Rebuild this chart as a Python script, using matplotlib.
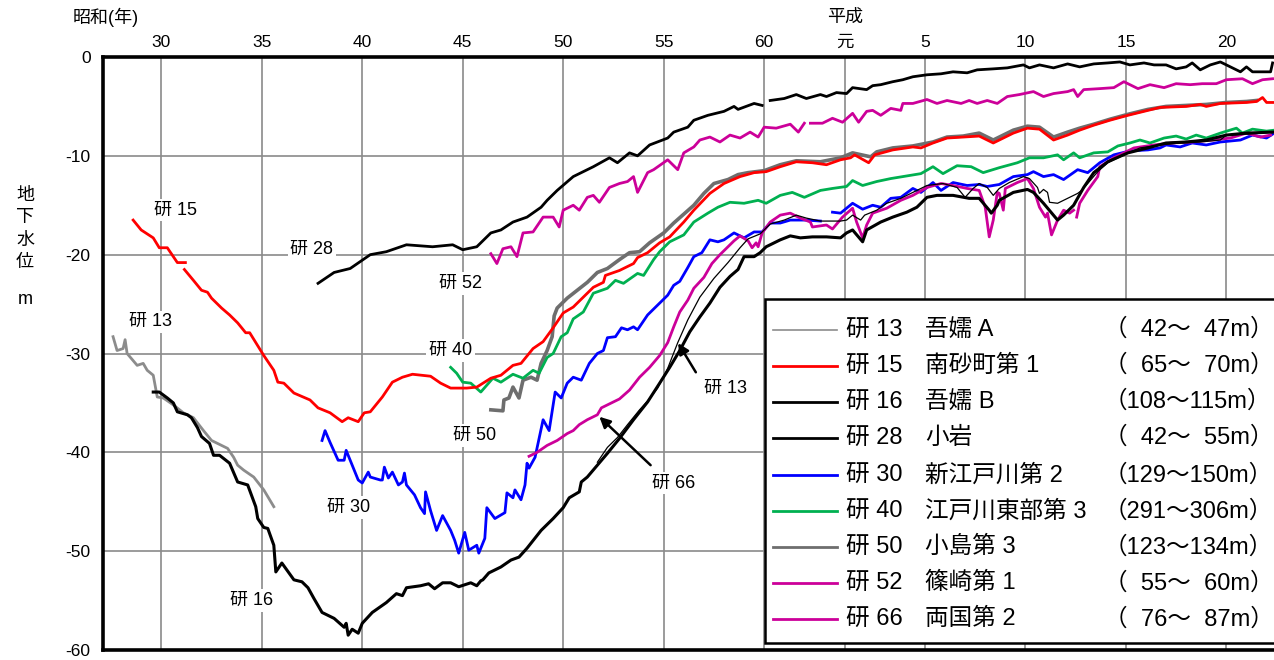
import numpy as np
import matplotlib
matplotlib.use("Agg")
import matplotlib.pyplot as plt
from matplotlib.patches import Rectangle
from matplotlib.lines import Line2D

FONT = ['Liberation Sans', 'Noto Sans CJK JP', 'DejaVu Sans']
plt.rcParams['font.family'] = FONT

nan = np.nan

# ---- data (year, groundwater level m) ----
yr13a = [1952.6, 1952.8, 1953.1, 1953.2, 1953.3, 1953.8, 1954.1, 1954.3, 1954.6, 1954.8, 1955.1, 1955.6,
         1956.1, 1956.6, 1957.1, 1957.5, 1957.8, 1958.3, 1958.6, 1958.8, 1959.1, 1959.6, 1960.1, 1960.6]
lv13a = [-28.3, -29.7, -29.5, -28.6, -30.0, -31.2, -31.0, -31.7, -32.2, -34.4, -34.5, -35.2,
         -36.0, -36.5, -37.8, -38.8, -39.1, -39.6, -40.5, -41.3, -41.8, -42.5, -43.8, -45.5]

yr13b = [1976.7, 1977.2, 1977.7, 1978.2, 1978.8, 1979.2, 1979.7, 1980.2, 1980.7, 1981.2, 1981.8, 1982.5,
         1983.2, 1983.8, 1984.2, 1984.8, 1985.3, 1986.0, 1986.6, 1987.1, 1987.8, 1988.8, 1989.1, 1989.4,
         1989.8, 1990.0, 1990.6, 1991.1, 1991.8, 1992.4, 1993.1, 1993.9, 1994.6, 1995.0, 1995.4, 1995.7,
         1996.1, 1996.4, 1996.7, 1997.2, 1997.9, 1998.2, 1998.6, 1998.7, 1998.9, 1999.1, 1999.2, 1999.6,
         2000.1, 2000.6, 2000.8, 2001.1, 2001.6, 2002.1, 2002.7, 2003.7, 2004.7, 2005.7, 2006.7, 2007.7,
         2008.0, 2009.0, 2010.3]
lv13b = [-41.0, -39.5, -38.5, -37.2, -35.7, -34.8, -33.5, -31.5, -28.9, -26.6, -24.3, -22.4,
         -20.8, -19.3, -18.4, -17.9, -16.9, -16.5, -16.0, -16.3, -16.6, -16.6, -16.5, -16.0,
         -16.5, -16.0, -15.5, -14.8, -14.3, -13.7, -13.0, -12.8, -13.2, -14.2, -13.3, -12.8,
         -13.2, -14.0, -13.3, -12.7, -12.1, -12.3, -13.2, -13.8, -13.4, -13.7, -14.7, -14.8,
         -14.3, -13.8, -13.5, -12.8, -11.6, -10.7, -10.1, -9.2, -8.9, -8.7, -8.6, -8.4,
         -7.9, -7.8, -7.6]

yr15 = [1953.6, 1954.0, 1954.6, 1954.9, 1955.3, 1955.8, 1956.2, 1956.2, 1956.15, 1956.6, 1957.0, 1957.3,
        1957.5, 1958.0, 1958.4, 1958.8, 1959.2, 1959.4, 1960.1, 1960.6, 1960.8, 1961.1, 1961.6, 1962.4,
        1962.8, 1963.4, 1964.0, 1964.3, 1964.8, 1965.1, 1965.4, 1966.0, 1966.5, 1967.0, 1967.5, 1968.4,
        1968.9, 1969.4, 1970.2, 1970.7, 1971.4, 1971.9, 1972.5, 1972.9, 1973.5, 1974.0, 1974.5, 1975.0,
        1975.5, 1976.0, 1976.5, 1977.0, 1977.1, 1977.8, 1978.5, 1978.7, 1979.2, 1979.8, 1980.3, 1981.0,
        1981.5, 1982.3, 1983.0, 1983.8, 1984.5, 1985.1, 1985.8, 1986.6, 1987.4, 1988.1, 1988.8, 1989.3,
        1989.5, 1990.2, 1990.5, 1991.4, 1992.4, 1992.8, 1993.4, 1994.1, 1994.9, 1995.7, 1996.4, 1996.9,
        1997.4, 1998.1, 1998.7, 1999.4, 2000.1, 2000.7, 2001.4, 2002.2, 2003.1, 2004.1, 2004.7, 2006.0,
        2006.7, 2007.0, 2007.7, 2009.0, 2009.5, 2009.8, 2010.0, 2010.4]
lv15 = [-16.5, -17.5, -18.3, -19.3, -19.3, -20.8, -20.8, nan, -21.5, -22.6, -23.6, -23.8,
        -24.4, -25.4, -26.1, -26.9, -27.9, -27.9, -30.2, -31.7, -32.9, -33.0, -34.0, -34.7,
        -35.5, -36.0, -36.9, -36.5, -36.9, -36.0, -35.9, -34.4, -32.9, -32.4, -32.1, -32.3,
        -33.0, -33.5, -33.5, -33.4, -32.5, -32.2, -31.2, -31.0, -29.5, -28.8, -27.4, -25.9,
        -25.3, -24.3, -23.3, -22.8, -22.1, -21.6, -20.9, -20.3, -19.8, -18.8, -18.2, -16.7,
        -15.5, -13.8, -12.8, -12.1, -11.7, -11.6, -11.1, -10.6, -10.7, -10.9, -10.4, -10.2,
        -9.9, -10.7, -9.9, -9.4, -9.1, -9.2, -8.7, -8.2, -8.1, -8.0, -8.7, -8.2,
        -7.7, -7.2, -7.3, -8.4, -7.9, -7.4, -6.9, -6.4, -5.9, -5.4, -5.1, -5.0,
        -4.8, -5.0, -4.7, -4.6, -4.5, -4.1, -4.6, -4.6]

yr16 = [1954.6, 1954.9, 1955.3, 1955.6, 1955.8, 1956.3, 1956.5, 1956.8, 1957.0, 1957.4, 1957.6, 1957.9,
        1958.4, 1958.8, 1959.3, 1959.7, 1959.8, 1960.1, 1960.3, 1960.6, 1960.7, 1961.0, 1961.6, 1962.0,
        1962.3, 1962.6, 1963.0, 1963.6, 1964.1, 1964.2, 1964.3, 1964.5, 1964.8, 1965.0, 1965.5, 1966.2,
        1966.7, 1967.0, 1967.2, 1967.9, 1968.3, 1968.6, 1969.0, 1969.4, 1969.8, 1970.4, 1970.7, 1970.9,
        1971.0, 1971.3, 1971.9, 1972.4, 1972.8, 1973.2, 1973.9, 1974.5, 1975.0, 1975.3, 1975.8, 1975.9,
        1976.2, 1976.7, 1977.2, 1977.8, 1978.5, 1979.2, 1979.8, 1980.3, 1980.8, 1981.3, 1981.8, 1982.3,
        1982.8, 1983.3, 1983.7, 1984.0, 1984.5, 1984.8, 1985.1, 1985.8, 1986.3, 1986.8, 1987.4, 1988.1,
        1988.8, 1989.1, 1989.4, 1989.9, 1990.1, 1990.8, 1991.4, 1992.1, 1992.6, 1993.1, 1993.6, 1994.4,
        1995.2, 1995.7, 1996.2, 1996.3, 1996.6, 1996.7, 1997.4, 1998.1, 1998.4, 1998.9, 1999.6, 1999.9,
        2000.4, 2000.9, 2001.4, 2002.1, 2003.1, 2004.1, 2005.0, 2006.0, 2007.0, 2008.0, 2009.0, 2010.3]
lv16 = [-33.9, -33.9, -34.5, -35.0, -35.9, -36.2, -36.5, -37.5, -38.4, -39.1, -40.3, -40.3,
        -41.1, -43.0, -43.3, -45.5, -46.7, -47.6, -47.7, -49.4, -52.1, -51.2, -52.9, -53.1,
        -53.7, -54.8, -56.2, -56.8, -57.7, -57.3, -58.5, -57.9, -58.3, -57.3, -56.2, -55.2,
        -54.3, -54.5, -53.7, -53.5, -53.3, -53.8, -53.2, -53.2, -53.6, -53.2, -53.5, -53.0,
        -52.9, -52.2, -51.6, -50.9, -50.6, -49.7, -47.9, -46.7, -45.6, -44.6, -44.0, -43.0,
        -42.5, -41.3, -40.1, -38.6, -36.7, -34.9, -33.0, -31.4, -29.7, -27.8, -26.3, -24.9,
        -23.3, -22.2, -21.5, -20.2, -20.2, -19.8, -19.2, -18.5, -18.1, -18.3, -18.2, -18.2,
        -18.3, -17.8, -17.5, -18.7, -17.5, -16.7, -16.2, -15.7, -15.2, -14.2, -14.0, -14.0,
        -14.3, -14.3, -15.5, -15.8, -15.0, -14.5, -13.7, -13.4, -13.7, -14.8, -16.5, -16.0,
        -15.0, -13.2, -11.7, -10.6, -9.7, -9.2, -8.7, -8.6, -8.4, -7.9, -7.7, -7.6]

yr28 = [1962.8, 1963.6, 1964.4, 1965.4, 1966.2, 1967.2, 1968.5, 1969.5, 1970.0, 1970.7, 1971.4, 1971.9,
        1972.5, 1973.2, 1973.9, 1974.2, 1974.7, 1975.5, 1976.5, 1977.3, 1977.7, 1978.3, 1978.7, 1979.3,
        1980.2, 1980.5, 1981.2, 1981.5, 1982.2, 1983.0, 1983.5, 1983.7, 1984.5, 1984.9, 1985.1, 1985.3,
        1986.0, 1986.6, 1987.1, 1987.8, 1988.1, 1988.6, 1989.1, 1989.4, 1990.1, 1990.4, 1990.8, 1991.4,
        1991.9, 1992.4, 1993.1, 1993.8, 1994.4, 1995.1, 1995.6, 1996.4, 1997.1, 1997.9, 1998.2, 1998.7,
        1999.4, 2000.1, 2000.7, 2001.4, 2002.1, 2002.7, 2003.2, 2003.9, 2004.4, 2005.0, 2005.5, 2006.0,
        2006.3, 2006.7, 2007.2, 2007.7, 2008.2, 2008.7, 2009.0, 2009.3, 2010.2, 2010.3]
lv28 = [-22.9, -21.8, -21.4, -20.0, -19.7, -19.0, -19.2, -19.0, -19.5, -19.2, -17.8, -17.5,
        -16.7, -16.2, -15.2, -14.5, -13.5, -12.1, -11.1, -10.2, -10.7, -9.7, -10.0, -8.9,
        -8.2, -7.6, -7.1, -6.4, -5.9, -5.5, -5.0, -5.3, -4.7, -4.9, nan, -4.4,
        -4.2, -3.8, -4.2, -3.8, -4.0, -3.6, -3.7, -3.1, -3.3, -2.9, -2.8, -2.5,
        -2.3, -2.0, -1.8, -1.7, -1.5, -1.6, -1.3, -1.2, -1.1, -0.8, -1.1, -0.8,
        -1.1, -0.7, -1.0, -0.7, -0.6, -0.5, -0.8, -0.6, -0.8, -0.8, -1.2, -1.0,
        -0.6, -1.3, -0.8, -0.5, -1.0, -1.5, -1.0, -1.5, -1.5, -0.6]

yr30 = [1963.0, 1963.15, 1963.4, 1963.8, 1964.1, 1964.2, 1964.4, 1964.8, 1965.0, 1965.3, 1965.4, 1965.9,
        1966.0, 1966.1, 1966.3, 1966.5, 1966.8, 1967.0, 1967.1, 1967.2, 1967.6, 1967.9, 1968.1, 1968.15,
        1968.4, 1968.7, 1969.0, 1969.4, 1969.6, 1969.8, 1970.1, 1970.3, 1970.7, 1970.8, 1971.1, 1971.2,
        1971.6, 1972.1, 1972.2, 1972.5, 1972.6, 1972.9, 1973.1, 1973.2, 1973.3, 1973.6, 1974.0, 1974.3,
        1974.6, 1974.9, 1975.2, 1975.5, 1975.9, 1976.3, 1976.7, 1977.0, 1977.2, 1977.6, 1977.9, 1978.2,
        1978.5, 1978.7, 1979.2, 1979.7, 1980.2, 1980.5, 1980.8, 1981.2, 1981.5, 1981.9, 1982.3, 1982.7,
        1983.0, 1983.5, 1984.0, 1984.5, 1984.9, 1985.3, 1985.8, 1986.3, 1987.1, 1987.8, 1988.0, 1988.4,
        1988.8, 1989.4, 1989.9, 1990.4, 1990.8, 1991.3, 1991.8, 1992.4, 1992.8, 1993.4, 1993.8, 1994.4,
        1995.1, 1995.7, 1996.1, 1996.7, 1997.4, 1998.1, 1998.4, 1998.9, 1999.4, 1999.9, 2000.6, 2001.1,
        2001.7, 2002.4, 2003.2, 2004.1, 2004.7, 2005.0, 2005.7, 2006.3, 2007.0, 2007.7, 2008.7, 2009.3,
        2010.0, 2010.3]
lv30 = [-38.8, -37.8, -39.0, -40.8, -40.8, -39.8, -40.8, -42.8, -43.1, -42.0, -42.5, -42.8,
        -42.8, -41.5, -42.6, -42.0, -43.3, -43.0, -42.1, -43.3, -44.3, -45.6, -46.2, -44.0,
        -45.9, -47.9, -46.4, -47.9, -48.9, -50.2, -48.1, -49.9, -49.4, -50.2, -48.7, -45.6,
        -46.7, -46.1, -44.1, -44.6, -43.8, -44.8, -43.3, -41.1, -41.6, -40.5, -36.7, -37.8,
        -33.9, -34.5, -33.0, -32.4, -32.7, -31.0, -30.0, -29.7, -28.4, -28.3, -27.4, -27.6,
        -27.3, -27.6, -26.1, -25.1, -24.1, -23.1, -22.7, -21.3, -20.2, -19.8, -18.5, -18.7,
        -18.5, -17.8, -18.3, -17.7, -17.7, -16.8, -16.8, -16.5, -16.5, -16.6, nan, -15.7,
        -15.8, -14.8, -15.4, -15.0, -15.2, -14.3, -14.2, -13.3, -13.7, -12.7, -13.5, -12.7,
        -13.0, -12.9, -13.1, -12.9, -12.1, -11.9, -11.6, -12.1, -11.9, -12.4, -11.4, -11.7,
        -10.7, -9.9, -9.5, -9.4, -9.2, -8.9, -9.1, -8.7, -8.9, -8.6, -8.4, -7.9,
        -8.2, -7.8]

yr40 = [1969.4, 1969.7, 1970.0, 1970.4, 1970.9, 1971.2, 1971.5, 1971.9, 1972.5, 1973.0, 1973.5, 1973.8,
        1974.2, 1974.5, 1974.9, 1975.2, 1975.5, 1976.0, 1976.5, 1977.2, 1977.6, 1978.0, 1978.7, 1979.0,
        1979.5, 1979.8, 1980.3, 1981.0, 1981.5, 1982.2, 1982.7, 1983.3, 1984.0, 1984.7, 1985.1, 1985.8,
        1986.4, 1987.0, 1987.8, 1988.4, 1989.1, 1989.4, 1989.9, 1990.6, 1991.3, 1991.9, 1992.8, 1993.4,
        1993.9, 1994.6, 1995.3, 1995.9, 1996.7, 1997.6, 1998.2, 1998.9, 1999.6, 1999.9, 2000.4, 2000.7,
        2001.4, 2002.1, 2002.6, 2003.2, 2003.7, 2004.2, 2004.9, 2005.5, 2006.0, 2006.5, 2007.0, 2007.7,
        2008.5, 2008.8, 2009.3, 2010.0, 2010.4]
lv40 = [-31.4, -32.0, -32.9, -33.0, -33.9, -33.2, -32.5, -32.9, -32.1, -32.5, -31.7, -32.0,
        -30.4, -30.0, -28.3, -27.9, -26.5, -25.8, -23.9, -23.4, -22.6, -22.9, -21.9, -22.1,
        -20.5, -19.7, -18.7, -18.0, -16.7, -15.8, -15.2, -14.7, -14.8, -14.5, -14.8, -14.0,
        -13.7, -14.2, -13.5, -13.3, -13.1, -12.5, -13.0, -12.6, -12.3, -12.1, -11.8, -11.1,
        -11.8, -11.0, -11.1, -11.7, -11.2, -10.7, -10.2, -10.2, -9.9, -10.4, -9.7, -10.2,
        -9.7, -9.6, -9.0, -8.7, -8.4, -8.7, -8.2, -8.0, -8.3, -7.9, -8.2, -7.7,
        -7.2, -7.7, -7.3, -7.5, -7.4]

yr50 = [1971.4, 1972.0, 1972.05, 1972.3, 1972.5, 1972.8, 1973.0, 1973.4, 1973.7, 1973.9, 1974.2, 1974.45,
        1974.55, 1974.7, 1975.2, 1975.7, 1976.2, 1976.7, 1977.2, 1977.8, 1978.3, 1978.8, 1979.3, 1980.0,
        1980.5, 1981.0, 1981.5, 1982.0, 1982.5, 1983.2, 1983.7, 1984.2, 1985.0, 1985.8, 1986.6, 1987.8,
        1988.8, 1989.4, 1990.3, 1990.6, 1991.4, 1992.4, 1993.4, 1994.1, 1994.9, 1995.7, 1996.4, 1996.9,
        1997.4, 1998.1, 1998.7, 1999.4, 2000.1, 2000.7, 2001.4, 2002.2, 2003.1, 2004.1, 2005.0, 2006.0,
        2007.0, 2008.0, 2009.0, 2009.5]
lv50 = [-35.7, -35.8, -34.7, -34.5, -33.4, -34.5, -32.7, -32.4, -32.7, -31.0, -29.7, -28.3,
        -26.2, -25.4, -24.4, -23.6, -22.8, -21.8, -21.4, -20.5, -19.8, -19.7, -18.8, -17.8,
        -16.8, -15.9, -15.0, -13.8, -12.8, -12.4, -11.9, -11.7, -11.5, -10.9, -10.5, -10.6,
        -10.2, -9.7, -10.1, -9.6, -9.2, -9.0, -8.6, -8.1, -8.0, -7.7, -8.4, -7.9,
        -7.4, -7.0, -7.1, -8.1, -7.6, -7.2, -6.8, -6.3, -5.8, -5.3, -5.0, -4.9,
        -4.8, -4.6, -4.5, -4.4]

yr52 = [1971.4, 1971.7, 1972.0, 1972.4, 1972.7, 1973.0, 1973.5, 1974.0, 1974.5, 1974.8, 1975.0, 1975.5,
        1975.8, 1976.2, 1976.5, 1976.8, 1977.3, 1977.8, 1978.2, 1978.5, 1978.7, 1979.2, 1979.5, 1980.2,
        1980.7, 1981.0, 1981.5, 1981.8, 1982.3, 1982.8, 1983.3, 1983.8, 1984.3, 1984.7, 1985.0, 1985.6,
        1986.3, 1986.7, 1987.0, 1987.15, 1987.3, 1987.9, 1988.4, 1988.9, 1989.4, 1989.7, 1990.1, 1990.4,
        1990.8, 1991.3, 1991.8, 1991.9, 1992.4, 1993.1, 1993.6, 1994.1, 1994.8, 1995.2, 1995.6, 1996.1,
        1996.6, 1997.1, 1997.7, 1998.4, 1998.9, 1999.4, 2000.1, 2000.4, 2000.6, 2000.9, 2001.7, 2002.4,
        2002.9, 2003.6, 2004.2, 2004.9, 2005.5, 2006.2, 2006.8, 2007.5, 2008.0, 2008.8, 2009.3, 2009.8,
        2010.3]
lv52 = [-19.9, -20.9, -19.4, -19.2, -20.2, -17.8, -17.7, -16.2, -16.2, -17.2, -15.5, -15.0,
        -15.5, -14.2, -14.0, -14.7, -13.2, -12.8, -12.6, -12.1, -13.7, -11.7, -11.4, -10.4,
        -11.4, -9.7, -9.1, -8.4, -8.1, -8.6, -7.9, -8.2, -7.6, -8.1, -7.1, -7.2,
        -6.8, -7.6, -6.7, nan, -6.7, -6.7, -6.2, -6.6, -5.7, -6.6, -5.5, -5.4,
        -5.9, -5.2, -5.4, -4.7, -4.7, -4.3, -4.7, -4.4, -4.7, -4.4, -4.7, -4.4,
        -4.7, -4.0, -3.8, -3.5, -4.0, -3.7, -3.5, -3.3, -4.0, -3.3, -3.2, -3.1,
        -2.5, -3.2, -2.8, -3.1, -2.7, -2.8, -2.7, -2.7, -2.3, -2.2, -2.7, -2.3,
        -2.2]

yr66 = [1973.3, 1973.7, 1974.2, 1974.7, 1975.2, 1975.5, 1975.8, 1976.2, 1976.7, 1976.9, 1977.4, 1977.8,
        1978.3, 1978.8, 1979.3, 1979.8, 1980.2, 1980.5, 1980.8, 1981.2, 1981.5, 1982.0, 1982.4, 1982.8,
        1983.2, 1983.5, 1983.8, 1984.2, 1984.4, 1984.6, 1984.7, 1984.9, 1985.3, 1985.8, 1986.3, 1986.5,
        1986.8, 1987.3, 1987.4, 1988.1, 1988.4, 1988.9, 1989.4, 1989.6, 1989.9, 1990.1, 1990.4, 1991.1,
        1991.8, 1992.4, 1993.1, 1993.8, 1994.4, 1995.1, 1995.7, 1996.0, 1996.2, 1996.4, 1996.6, 1996.7,
        1996.9, 1997.0, 1997.6, 1998.1, 1998.4, 1998.7, 1999.0, 1999.1, 1999.3, 1999.6, 1999.9, 2000.2,
        2000.4, 2000.5, 2000.55, 2000.7, 2001.1, 2001.6, 2001.7, 2002.4, 2003.4, 2004.4, 2005.3, 2006.3,
        2007.3, 2008.2, 2009.0, 2009.7, 2010.2]
lv66 = [-40.4, -40.0, -39.3, -38.8, -38.1, -37.8, -37.2, -36.7, -36.2, -35.5, -35.0, -34.6,
        -33.7, -32.4, -31.4, -30.2, -28.9, -27.3, -25.8, -24.6, -23.4, -22.3, -20.9, -20.0,
        -19.2, -18.6, -18.1, -18.6, -19.3, -18.8, -19.2, -17.8, -16.7, -16.0, -15.8, -16.0,
        -16.3, -16.7, -17.2, -17.0, -17.4, -16.2, -15.3, -16.7, -18.3, -17.0, -15.8, -15.3,
        -14.5, -14.0, -13.2, -12.8, -13.0, -13.3, -13.5, -15.2, -18.2, -16.5, -13.7, -13.8,
        -15.5, -13.3, -12.7, -12.3, -13.3, -15.2, -16.2, -15.8, -18.0, -16.5, -15.5, -15.8,
        -15.5, nan, -16.2, -14.8, -13.5, -12.1, -11.1, -10.2, -9.2, -8.9, -8.7, -8.6,
        -8.4, -8.2, -7.7, -8.1, -7.9]

# legend rows: well, name, screen depth
wells = ['研 13', '研 15', '研 16', '研 28', '研 30', '研 40', '研 50', '研 52', '研 66']
names = ['吾嬬 A', '南砂町第 1', '吾嬬 B', '小岩', '新江戸川第 2', '江戸川東部第 3', '小島第 3', '篠崎第 1', '両国第 2']
depths = ['（  42～  47m）', '（  65～  70m）', '（108～115m）', '（  42～  55m）', '（129～150m）',
          '（291～306m）', '（123～134m）', '（  55～  60m）', '（  76～  87m）']

tick_years = [1955, 1960, 1965, 1970, 1975, 1980, 1985, 1989, 1993, 1998, 2003, 2008]
tick_labels = ['30', '35', '40', '45', '50', '55', '60', '元', '5', '10', '15', '20']

# ---- figure ----
W, H = 1274, 660
fig = plt.figure(figsize=(W / 100, H / 100), dpi=100)

def fx(x):
    return x / W

def fy(y):
    return 1 - y / H

ax = fig.add_axes([fx(103), fy(650), 1 - fx(103), fy(57) - fy(650)])
ax.set_xlim(1952.1, 2010.37)
ax.set_ylim(-60, 0)

black = 'black'
red = '#FF0000'
blue = '#0000FF'
green = '#00B050'
gray50 = '#6E6E6E'
gray13 = '#8C8C8C'
mag = '#CC0099'

ax.plot(yr13a, lv13a, color=gray13, lw=2.0, zorder=3)
ax.plot(yr13b, lv13b, color=black, lw=0.9, zorder=4)
ax.plot(yr50, lv50, color=gray50, lw=2.6, zorder=3)
ax.plot(yr15, lv15, color=red, lw=2.0, zorder=4)
ax.plot(yr16, lv16, color=black, lw=2.2, zorder=4)
ax.plot(yr28, lv28, color=black, lw=2.0, zorder=4)
ax.plot(yr30, lv30, color=blue, lw=2.0, zorder=3)
ax.plot(yr40, lv40, color=green, lw=2.0, zorder=3)
ax.plot(yr52, lv52, color=mag, lw=2.0, zorder=3)
ax.plot(yr66, lv66, color=mag, lw=2.0, zorder=3)

# axes styling
ax.set_xticks(tick_years)
ax.set_xticklabels(tick_labels)
ax.xaxis.set_ticks_position('top')
ax.set_yticks([0, -10, -20, -30, -40, -50, -60])
ax.set_yticklabels(['0', '-10', '-20', '-30', '-40', '-50', '-60'])
ax.tick_params(axis='x', length=0, pad=5, labelsize=12.5)
ax.tick_params(axis='y', length=0, pad=9, labelsize=12.5)
ax.grid(True, color='#8A8A8A', lw=1.2)
ax.set_axisbelow(True)
for s in ['left', 'top', 'bottom']:
    ax.spines[s].set_linewidth(2.6)
ax.spines['right'].set_visible(False)

# in-plot labels
lab_kw = dict(fontsize=13, ha='center', va='center', zorder=6,
              bbox=dict(facecolor='white', edgecolor='none', pad=2))
ax.text(1955.7, -15.5, '研 15', **lab_kw)
ax.text(1954.45, -26.8, '研 13', **lab_kw)
ax.text(1962.5, -19.5, '研 28', **lab_kw)
ax.text(1969.9, -22.9, '研 52', **lab_kw)
ax.text(1969.4, -29.7, '研 40', **lab_kw)
ax.text(1970.6, -38.3, '研 50', **lab_kw)
ax.text(1964.3, -45.6, '研 30', **lab_kw)
ax.text(1959.5, -55.0, '研 16', **lab_kw)
ax.text(1983.1, -33.5, '研 13', **lab_kw)
ax.text(1980.5, -43.1, '研 66', **lab_kw)

arr = dict(arrowstyle='-|>', color='black', lw=1.8, mutation_scale=16, shrinkA=0, shrinkB=0)
ax.annotate('', xy=(1980.72, -28.95), xytext=(1981.6, -31.9), arrowprops=arr, zorder=6)
ax.annotate('', xy=(1976.8, -36.4), xytext=(1979.35, -41.3), arrowprops=arr, zorder=6)

# era labels and axis title
fig.text(fx(106), fy(17), '昭和(年)', fontsize=13, ha='center', va='center')
fig.text(fx(845), fy(17), '平成', fontsize=13, ha='center', va='center')
fig.text(fx(25), fy(229), '地\n下\n水\n位', fontsize=13, ha='center', va='center', linespacing=1.4)
fig.text(fx(25), fy(300), 'm', fontsize=13, ha='center', va='center')

# legend box
fig.add_artist(Rectangle((fx(765), fy(643)), fx(1290 - 765), fy(299) - fy(643),
                         transform=fig.transFigure, facecolor='white', edgecolor='black',
                         lw=1.8, zorder=10))
leg_styles = [(gray13, 1.2), (red, 2.0), (black, 2.0), (black, 2.0), (blue, 2.0),
              (green, 2.0), (gray50, 2.0), (mag, 2.0), (mag, 2.0)]
row_y = [330, 366, 402, 438, 475, 511, 547, 583, 619]
for i in range(len(wells)):
    y = fy(row_y[i])
    c, lw = leg_styles[i]
    fig.add_artist(Line2D([fx(773), fx(837)], [y, y], color=c, lw=lw,
                          transform=fig.transFigure, zorder=11))
    fig.text(fx(846), y, wells[i], fontsize=17, ha='left', va='center', zorder=11)
    fig.text(fx(925), y, names[i], fontsize=17, ha='left', va='center', zorder=11)
    fig.text(fx(1104), y, depths[i], fontsize=17, ha='left', va='center', zorder=11)

fig.savefig('out.png', dpi=100)
